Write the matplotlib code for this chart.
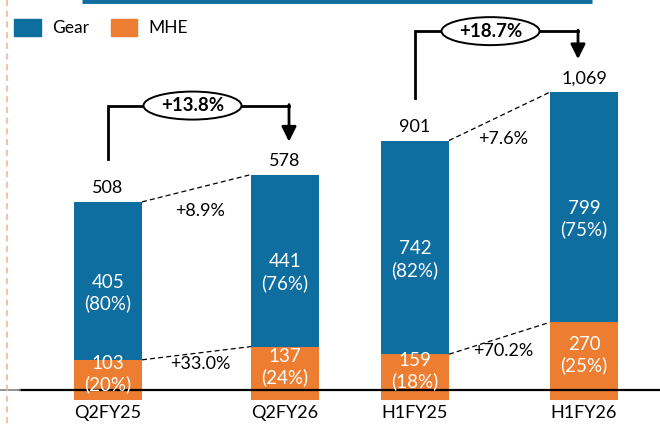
import matplotlib.pyplot as plt
from matplotlib.patches import Ellipse, Patch

plt.rcParams['font.family'] = ['Lato', 'DejaVu Sans']

# data
periods = ['Q2FY25', 'Q2FY26', 'H1FY25', 'H1FY26']
gear = [405, 441, 742, 799]
mhe = [103, 137, 159, 270]
totals = ['508', '578', '901', '1,069']
gear_share = ['(80%)', '(76%)', '(82%)', '(75%)']
mhe_share = ['(20%)', '(24%)', '(18%)', '(25%)']
gear_growth = ['+8.9%', '+7.6%']
mhe_growth = ['+33.0%', '+70.2%']
total_growth = ['+13.8%', '+18.7%']

BLUE = '#0E6EA0'
ORANGE = '#ED7D31'
W, H = 660, 425
xpos = [108, 285, 415, 584]
bw = 68

fig = plt.figure(figsize=(6.6, 4.25), dpi=100)
# quarter bars and half-year bars are drawn on different scales in the source
ax = fig.add_axes([0, 0, 1, 1])
ax2 = ax.twinx()
ax.set_ylim(-25 / 0.39, 400 / 0.39)
ax2.set_ylim(-25 / 0.288, 400 / 0.288)
for a in (ax, ax2):
    a.set_xlim(0, W)
    a.axis('off')

# overlay in pixel coords (y down) for labels and decorations
ov = fig.add_axes([0, 0, 1, 1], zorder=5)
ov.set_xlim(0, W)
ov.set_ylim(H, 0)
ov.axis('off')
ov.patch.set_alpha(0)

axes = [ax, ax, ax2, ax2]
for i in range(4):
    a = axes[i]
    a.bar(xpos[i], mhe[i], width=bw, color=ORANGE)
    a.bar(xpos[i], gear[i], bottom=mhe[i], width=bw, color=BLUE)


def py(a, v):
    return H - a.transData.transform((0, v))[1]


tops, mids = [], []
for i in range(4):
    a = axes[i]
    t = py(a, gear[i] + mhe[i])
    m = py(a, mhe[i])
    b = py(a, 0)
    tops.append(t)
    mids.append(m)
    ov.text(xpos[i], t - 14, totals[i], ha='center', va='center', fontsize=13)
    ov.text(xpos[i], (t + m) / 2 + 12, f'{gear[i]}\n{gear_share[i]}', ha='center', va='center',
            fontsize=13.5, color='white', linespacing=1.25)
    ov.text(xpos[i], (m + b) / 2 - 6, f'{mhe[i]}\n{mhe_share[i]}', ha='center', va='center',
            fontsize=13.5, color='white', linespacing=1.25)
    ov.text(xpos[i], 413, periods[i], ha='center', va='center', fontsize=13)

# dashed connectors and growth labels
for k, (i, j) in enumerate([(0, 1), (2, 3)]):
    x0, x1 = xpos[i] + bw / 2, xpos[j] - bw / 2
    ov.plot([x0, x1], [tops[i], tops[j]], ls=(0, (4, 2.5)), color='black', lw=0.9)
    ov.plot([x0, x1], [mids[i], mids[j]], ls=(0, (4, 2.5)), color='black', lw=0.9)
    xm = (x0 + x1) / 2
    ov.text(xm + 4, (tops[i] + tops[j]) / 2 + 23, gear_growth[k], ha='center', va='center', fontsize=13)
    ov.text(xm + 4, (mids[i] + mids[j]) / 2 + 11 + 2 * k, mhe_growth[k], ha='center', va='center',
            fontsize=13)

    # bracket with arrow
    xl, xr = xpos[i], xpos[j] + (4 if k == 0 else -6)
    hy = tops[j] - (69 if k == 0 else 61)
    ov.plot([xl, xl, xr], [tops[i] - 43, hy, hy], color='black', lw=2, solid_joinstyle='miter')
    ov.annotate('', xy=(xr, tops[j] - 33), xytext=(xr, hy - 1),
                arrowprops=dict(arrowstyle='-|>', mutation_scale=22, lw=2, color='black',
                                shrinkA=0, shrinkB=0))
    cx = (xl + xr) / 2 - 6
    ov.add_patch(Ellipse((cx, hy), 98, 28, facecolor='white', edgecolor='black', lw=1.4, zorder=6))
    ov.text(cx, hy, total_growth[k], ha='center', va='center', fontsize=13.5, fontweight='bold', zorder=7)

# baseline, top rule, left dashed guide
ov.plot([20, W], [390, 390], color='black', lw=1.6)
ov.plot([0, 20], [390, 390], color='#7f7f7f', lw=1.2)
ov.plot([82, 592], [1.2, 1.2], color=BLUE, lw=3.5, solid_capstyle='butt')
ov.plot([7, 7], [0, H], color='#F4B08A', lw=1.1, ls=(0, (4, 3)))

handles = [Patch(color=BLUE), Patch(color=ORANGE)]
fig.legend(handles, ['Gear', 'MHE'], loc='upper left', bbox_to_anchor=(-2 / W, 1 - 3 / H),
           ncol=2, frameon=False, fontsize=12.5, handlelength=1.55, handleheight=1.15,
           columnspacing=1.25, handletextpad=0.65)

fig.savefig('out.png', dpi=100)
